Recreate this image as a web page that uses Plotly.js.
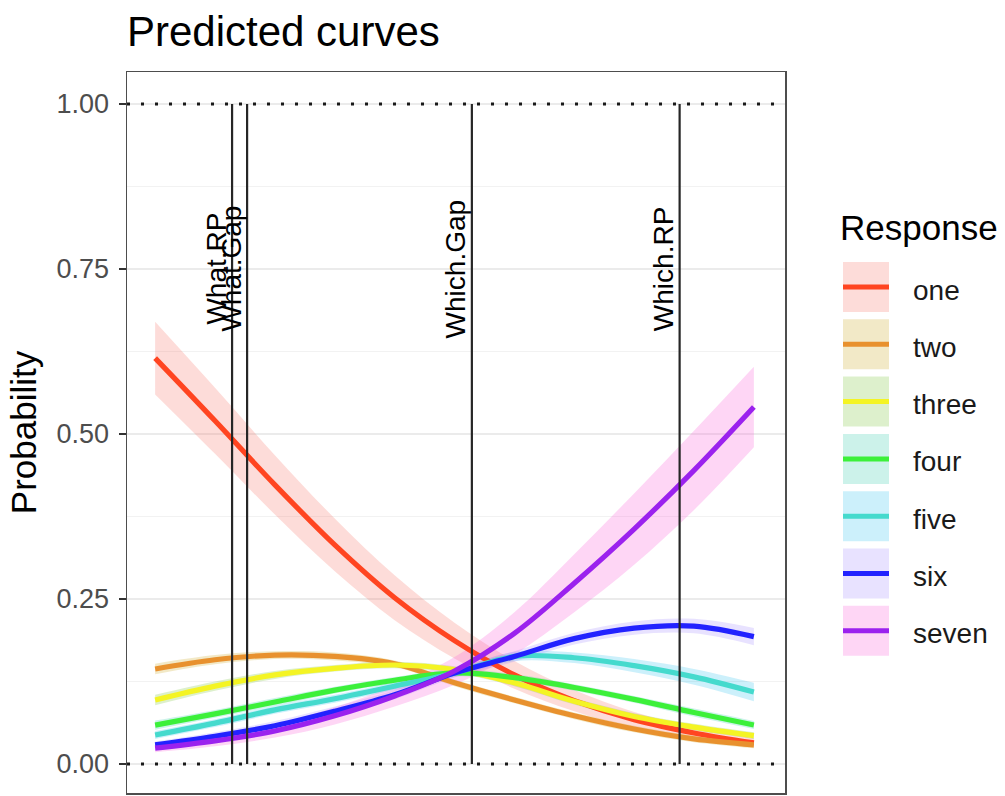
<!DOCTYPE html>
<html>
<head>
<meta charset="utf-8">
<script src="https://cdn.plot.ly/plotly-3.0.1.min.js"></script>
<style>
  html, body { margin: 0; padding: 0; background: #ffffff; }
  #chart { width: 1005px; height: 796px; }
</style>
</head>
<body>
<div id="chart"></div>
<script>
// Predictor grid the curves are evaluated on
const xGrid = [0, 0.1, 0.2, 0.3, 0.4, 0.5, 0.6, 0.7, 0.8, 0.9, 1.0];

// Response categories and their colours
const responseNames = ['one', 'two', 'three', 'four', 'five', 'six', 'seven'];
const lineColors = ['#FF4521', '#E8912E', '#F4F424', '#3CF03A', '#45DACD', '#2222FF', '#9B22EE'];
const bandColors = ['rgba(248,118,109,0.26)', 'rgba(196,154,0,0.22)', 'rgba(83,180,0,0.2)',
                    'rgba(0,192,148,0.2)', 'rgba(0,182,235,0.2)', 'rgba(165,138,255,0.25)',
                    'rgba(251,97,215,0.26)'];

// Predicted probabilities per category
const probOne   = [0.615, 0.520, 0.423, 0.332, 0.252, 0.187, 0.135, 0.096, 0.067, 0.047, 0.032];
const probTwo   = [0.144, 0.158, 0.165, 0.163, 0.152, 0.123, 0.097, 0.073, 0.053, 0.038, 0.029];
const probThree = [0.097, 0.118, 0.135, 0.145, 0.150, 0.143, 0.123, 0.095, 0.072, 0.056, 0.043];
const probFour  = [0.059, 0.076, 0.094, 0.112, 0.127, 0.138, 0.131, 0.116, 0.098, 0.078, 0.059];
const probFive  = [0.044, 0.062, 0.082, 0.099, 0.118, 0.138, 0.163, 0.161, 0.149, 0.132, 0.109];
const probSix   = [0.029, 0.042, 0.058, 0.080, 0.105, 0.138, 0.163, 0.190, 0.206, 0.209, 0.193];
const probSeven = [0.024, 0.035, 0.050, 0.073, 0.103, 0.141, 0.198, 0.274, 0.356, 0.445, 0.541];

// Half-widths of the confidence ribbons
const bandOne   = [0.055, 0.050, 0.045, 0.040, 0.034, 0.027, 0.021, 0.016, 0.012, 0.009, 0.007];
const bandTwo   = [0.008, 0.007, 0.006, 0.006, 0.005, 0.005, 0.005, 0.005, 0.005, 0.005, 0.005];
const bandThree = [0.008, 0.007, 0.006, 0.005, 0.005, 0.005, 0.005, 0.005, 0.005, 0.005, 0.005];
const bandFour  = [0.007, 0.006, 0.006, 0.005, 0.005, 0.005, 0.005, 0.005, 0.005, 0.006, 0.006];
const bandFive  = [0.006, 0.006, 0.006, 0.006, 0.006, 0.006, 0.007, 0.008, 0.010, 0.012, 0.014];
const bandSix   = [0.005, 0.006, 0.007, 0.007, 0.007, 0.007, 0.008, 0.009, 0.010, 0.011, 0.013];
const bandSeven = [0.006, 0.008, 0.010, 0.013, 0.016, 0.021, 0.032, 0.044, 0.054, 0.060, 0.061];

// Item locations marked with vertical lines
const itemNames = ['What.RP', 'What.Gap', 'Which.Gap', 'Which.RP'];
const itemX = [0.1285, 0.1536, 0.529, 0.876];

// Probability bounds drawn as dotted reference lines
const refLevels = [0, 1];
const labelLevel = 0.75;

const probs = [probOne, probTwo, probThree, probFour, probFive, probSix, probSeven];
const bands = [bandOne, bandTwo, bandThree, bandFour, bandFive, bandSix, bandSeven];

const FONT = '"Liberation Sans", Arial, Helvetica, sans-serif';
const W = 1005, H = 796;
const M = { l: 127, r: 220, t: 72, b: 3 };
const plotW = W - M.l - M.r, plotH = H - M.t - M.b;
const px2x = px => (px - M.l) / plotW;
const px2y = py => (H - M.b - py) / plotH;

const traces = [];

// ribbons first
probs.forEach((p, i) => {
  const lo = p.map((v, k) => v - bands[i][k]);
  const hi = p.map((v, k) => v + bands[i][k]);
  traces.push({
    x: xGrid, y: lo, type: 'scatter', mode: 'lines',
    line: { width: 0, shape: 'spline', smoothing: 1 },
    hoverinfo: 'skip', showlegend: false
  });
  traces.push({
    x: xGrid, y: hi, type: 'scatter', mode: 'lines', fill: 'tonexty',
    fillcolor: bandColors[i],
    line: { width: 0, shape: 'spline', smoothing: 1 },
    hoverinfo: 'skip', showlegend: false
  });
});

// fitted curves
probs.forEach((p, i) => {
  traces.push({
    x: xGrid, y: p, type: 'scatter', mode: 'lines', name: responseNames[i],
    line: { color: lineColors[i], width: 5.2, shape: 'spline', smoothing: 1 },
    showlegend: false
  });
});

// item lines on top
itemX.forEach((x, i) => {
  traces.push({
    x: [x, x], y: refLevels, type: 'scatter', mode: 'lines', name: itemNames[i],
    line: { color: '#262626', width: 2.2 }, showlegend: false, hoverinfo: 'skip'
  });
});

const shapes = refLevels.map(v => ({
  type: 'line', xref: 'paper', x0: 0, x1: 1, yref: 'y', y0: v, y1: v,
  layer: 'above', line: { color: '#1a1a1a', width: 3, dash: '3px,11px' }
}));

const annotations = itemNames.map((name, i) => ({
  x: itemX[i], y: labelLevel, xref: 'x', yref: 'y', text: name, showarrow: false,
  textangle: -90, xanchor: 'right', yanchor: 'middle', xshift: 1,
  font: { family: FONT, size: 28, color: '#000000' }
}));

// legend: ribbon swatch with the curve colour through it
const keyLeft = 843, keyRight = 889, keyTop = 262, keyH = 50, keyStep = 57.3;
annotations.push({
  xref: 'paper', yref: 'paper', x: px2x(838), y: px2y(227), xanchor: 'left', yanchor: 'middle',
  text: 'Response', showarrow: false, font: { family: FONT, size: 35, color: '#000000' }
});
responseNames.forEach((name, i) => {
  const top = keyTop + i * keyStep;
  const mid = top + keyH / 2;
  shapes.push({
    type: 'rect', xref: 'paper', yref: 'paper',
    x0: px2x(keyLeft), x1: px2x(keyRight), y0: px2y(top), y1: px2y(top + keyH),
    fillcolor: bandColors[i], line: { width: 0 }
  });
  shapes.push({
    type: 'line', xref: 'paper', yref: 'paper',
    x0: px2x(keyLeft), x1: px2x(keyRight), y0: px2y(mid), y1: px2y(mid),
    line: { color: lineColors[i], width: 5 }
  });
  annotations.push({
    xref: 'paper', yref: 'paper', x: px2x(911), y: px2y(mid + 3), xanchor: 'left', yanchor: 'middle',
    text: name, showarrow: false, font: { family: FONT, size: 28, color: '#1a1a1a' }
  });
});

const layout = {
  width: W, height: H,
  margin: M,
  paper_bgcolor: '#ffffff', plot_bgcolor: '#ffffff',
  showlegend: false,
  title: {
    text: 'Predicted curves', x: 127 / W, xref: 'container', xanchor: 'left',
    y: 1 - 31 / H, yref: 'container', yanchor: 'middle',
    font: { family: FONT, size: 42, color: '#000000' }
  },
  xaxis: {
    range: [-0.047, 1.052], showgrid: false, zeroline: false, showticklabels: false,
    ticks: '', showline: true, mirror: true, linecolor: '#4d4d4d', linewidth: 1.5
  },
  yaxis: {
    range: [-0.0439, 1.0485], dtick: 0.25, tick0: 0, tickformat: '.2f',
    showgrid: true, gridcolor: '#ebebeb', gridwidth: 1.6, zeroline: false,
    minor: { dtick: 0.125, tick0: 0, showgrid: true, gridcolor: '#f2f2f2', gridwidth: 1 },
    ticks: 'outside', ticklen: 7, tickwidth: 1.5, tickcolor: '#333333',
    ticklabelstandoff: 4,
    tickfont: { family: FONT, size: 27, color: '#4d4d4d' },
    showline: true, mirror: true, linecolor: '#4d4d4d', linewidth: 1.5,
    title: { text: 'Probability', standoff: 9, font: { family: FONT, size: 35, color: '#000000' } }
  },
  shapes: shapes,
  annotations: annotations
};

Plotly.newPlot('chart', traces, layout, { staticPlot: true, displayModeBar: false });
</script>
</body>
</html>
